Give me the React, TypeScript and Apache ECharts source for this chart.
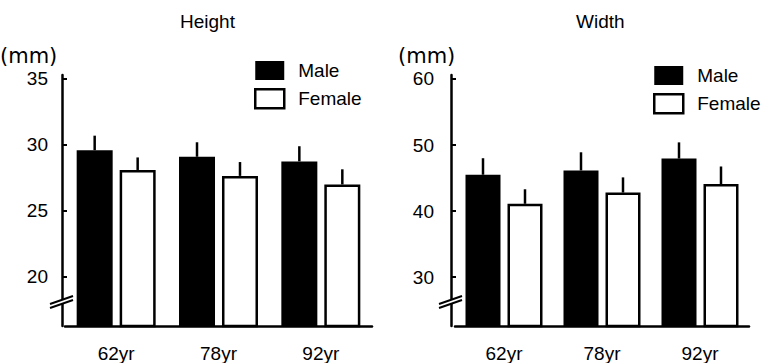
import React, { useEffect, useRef } from "react";
import * as echarts from "echarts";

const categories = ["62yr", "78yr", "92yr"];

const heightMale = [29.6, 29.1, 28.75];
const heightMaleSD = [1.1, 1.1, 1.15];
const heightFemale = [28.1, 27.65, 27.0];
const heightFemaleSD = [0.95, 1.05, 1.15];

const widthMale = [45.5, 46.15, 47.95];
const widthMaleSD = [2.5, 2.75, 2.45];
const widthFemale = [41.1, 42.8, 44.1];
const widthFemaleSD = [2.2, 2.3, 2.65];

const heightTicks = [20, 25, 30, 35];
const widthTicks = [30, 40, 50, 60];

const FONT = "'Liberation Sans', Arial, sans-serif";

const BW_L = 36;
const GAP_L = 0.194;
const BW_R = 35;
const GAP_R = 0.2;

function errRender(offset: number) {
  return (params: any, api: any) => {
    const x = api.value(0);
    const p0 = api.coord([x, api.value(1)]);
    const p1 = api.coord([x, api.value(2)]);
    return {
      type: "line",
      shape: { x1: p0[0] + offset, y1: p0[1], x2: p0[0] + offset, y2: p1[1] },
      style: { stroke: "#000", lineWidth: 2.5 },
    };
  };
}

function errData(mean: number[], sd: number[]) {
  return mean.map((m, i) => [i, m, m + sd[i]]);
}

function breakMark(cx: number, cy: number) {
  return [
    {
      type: "polygon",
      shape: { points: [[cx - 12, cy + 2], [cx + 11, cy - 6], [cx + 11, cy - 2], [cx - 12, cy + 6]] },
      style: { fill: "#fff" },
      z: 100,
    },
    {
      type: "line",
      shape: { x1: cx - 12, y1: cy + 2, x2: cx + 11, y2: cy - 6 },
      style: { stroke: "#000", lineWidth: 2 },
      z: 101,
    },
    {
      type: "line",
      shape: { x1: cx - 12, y1: cy + 6, x2: cx + 11, y2: cy - 2 },
      style: { stroke: "#000", lineWidth: 2 },
      z: 101,
    },
  ];
}

export default function App() {
  const ref = useRef<HTMLDivElement>(null);
  useEffect(() => {
    if (!ref.current) return;
    const chart = echarts.init(ref.current, undefined, { renderer: "svg" });
    const axisLine = { show: true, lineStyle: { color: "#000", width: 2.5 } };
    const offL = (BW_L + BW_L * GAP_L) / 2;
    const offR = (BW_R + BW_R * GAP_R) / 2;
    const legendCommon = {
      orient: "vertical",
      icon: "rect",
      itemWidth: 29,
      itemHeight: 19,
      itemGap: 8,
      padding: 0,
      selectedMode: false,
      textStyle: { fontSize: 19, color: "#000", fontFamily: FONT, padding: [0, 0, 0, 9] },
      data: [
        { name: "Male", itemStyle: { color: "#000" } },
        { name: "Female", itemStyle: { color: "#fff", borderColor: "#000", borderWidth: 2.5 } },
      ],
    };
    const yCommon = (min: number, max: number, ticks: number[], margin: number) => ({
      type: "value",
      min,
      max,
      offset: 3,
      axisLine,
      splitLine: { show: false },
      axisTick: { show: true, inside: true, length: 5, customValues: ticks, lineStyle: { color: "#000", width: 2 } },
      axisLabel: { customValues: ticks, fontSize: 19, color: "#000", fontFamily: FONT, margin },
    });
    const xCommon = (gridIndex: number) => ({
      type: "category",
      gridIndex,
      data: categories,
      axisLine,
      axisTick: { show: false },
      axisLabel: { fontSize: 19, color: "#000", fontFamily: FONT, margin: 18 },
    });
    chart.setOption({
      animation: false,
      backgroundColor: "#fff",
      title: [
        { text: "Height", left: 180, top: 12, padding: 0, textStyle: { fontSize: 19, fontWeight: "normal", color: "#000", fontFamily: FONT } },
        { text: "Width", left: 576, top: 12, padding: 0, textStyle: { fontSize: 19, fontWeight: "normal", color: "#000", fontFamily: FONT } },
      ],
      legend: [
        { ...legendCommon, left: 254, top: 61 },
        { ...legendCommon, left: 653, top: 66 },
      ],
      grid: [
        { left: 65, top: 75, width: 307, height: 252.5 },
        { left: 455, top: 75, width: 294, height: 251.5 },
      ],
      xAxis: [xCommon(0), xCommon(1)],
      yAxis: [
        { ...yCommon(16.27, 35.3, heightTicks, 14), gridIndex: 0 },
        { ...yCommon(22.6, 60.6, widthTicks, 17), gridIndex: 1, offset: 4 },
      ],
      graphic: [
        { type: "text", left: 0, top: 45, style: { text: "(mm)", fontSize: 21, fontFamily: "'DejaVu Sans', sans-serif", fill: "#000" } },
        { type: "text", left: 398, top: 45, style: { text: "(mm)", fontSize: 21, fontFamily: "'DejaVu Sans', sans-serif", fill: "#000" } },
        ...breakMark(62, 302),
        ...breakMark(451, 302),
      ],
      series: [
        {
          name: "Male", type: "bar", xAxisIndex: 0, yAxisIndex: 0, data: heightMale,
          barWidth: BW_L, barGap: GAP_L * 100 + "%", itemStyle: { color: "#000" },
        },
        {
          name: "Female", type: "bar", xAxisIndex: 0, yAxisIndex: 0, data: heightFemale,
          barWidth: BW_L, barGap: GAP_L * 100 + "%",
          itemStyle: { color: "#fff", borderColor: "#000", borderWidth: 2.5 },
        },
        {
          name: "Male", type: "bar", xAxisIndex: 1, yAxisIndex: 1, data: widthMale,
          barWidth: BW_R, barGap: GAP_R * 100 + "%", itemStyle: { color: "#000" },
        },
        {
          name: "Female", type: "bar", xAxisIndex: 1, yAxisIndex: 1, data: widthFemale,
          barWidth: BW_R, barGap: GAP_R * 100 + "%",
          itemStyle: { color: "#fff", borderColor: "#000", borderWidth: 2.5 },
        },
        {
          type: "custom", xAxisIndex: 0, yAxisIndex: 0, z: 5, silent: true,
          renderItem: errRender(-offL), data: errData(heightMale, heightMaleSD), encode: { x: 0, y: [1, 2] },
        },
        {
          type: "custom", xAxisIndex: 0, yAxisIndex: 0, z: 5, silent: true,
          renderItem: errRender(offL), data: errData(heightFemale, heightFemaleSD), encode: { x: 0, y: [1, 2] },
        },
        {
          type: "custom", xAxisIndex: 1, yAxisIndex: 1, z: 5, silent: true,
          renderItem: errRender(-offR), data: errData(widthMale, widthMaleSD), encode: { x: 0, y: [1, 2] },
        },
        {
          type: "custom", xAxisIndex: 1, yAxisIndex: 1, z: 5, silent: true,
          renderItem: errRender(offR), data: errData(widthFemale, widthFemaleSD), encode: { x: 0, y: [1, 2] },
        },
      ],
    });
    return () => chart.dispose();
  }, []);
  return (
    <div
      ref={ref}
      style={{ position: "fixed", left: 0, top: 0, width: 761, height: 363, background: "#fff" }}
    />
  );
}
